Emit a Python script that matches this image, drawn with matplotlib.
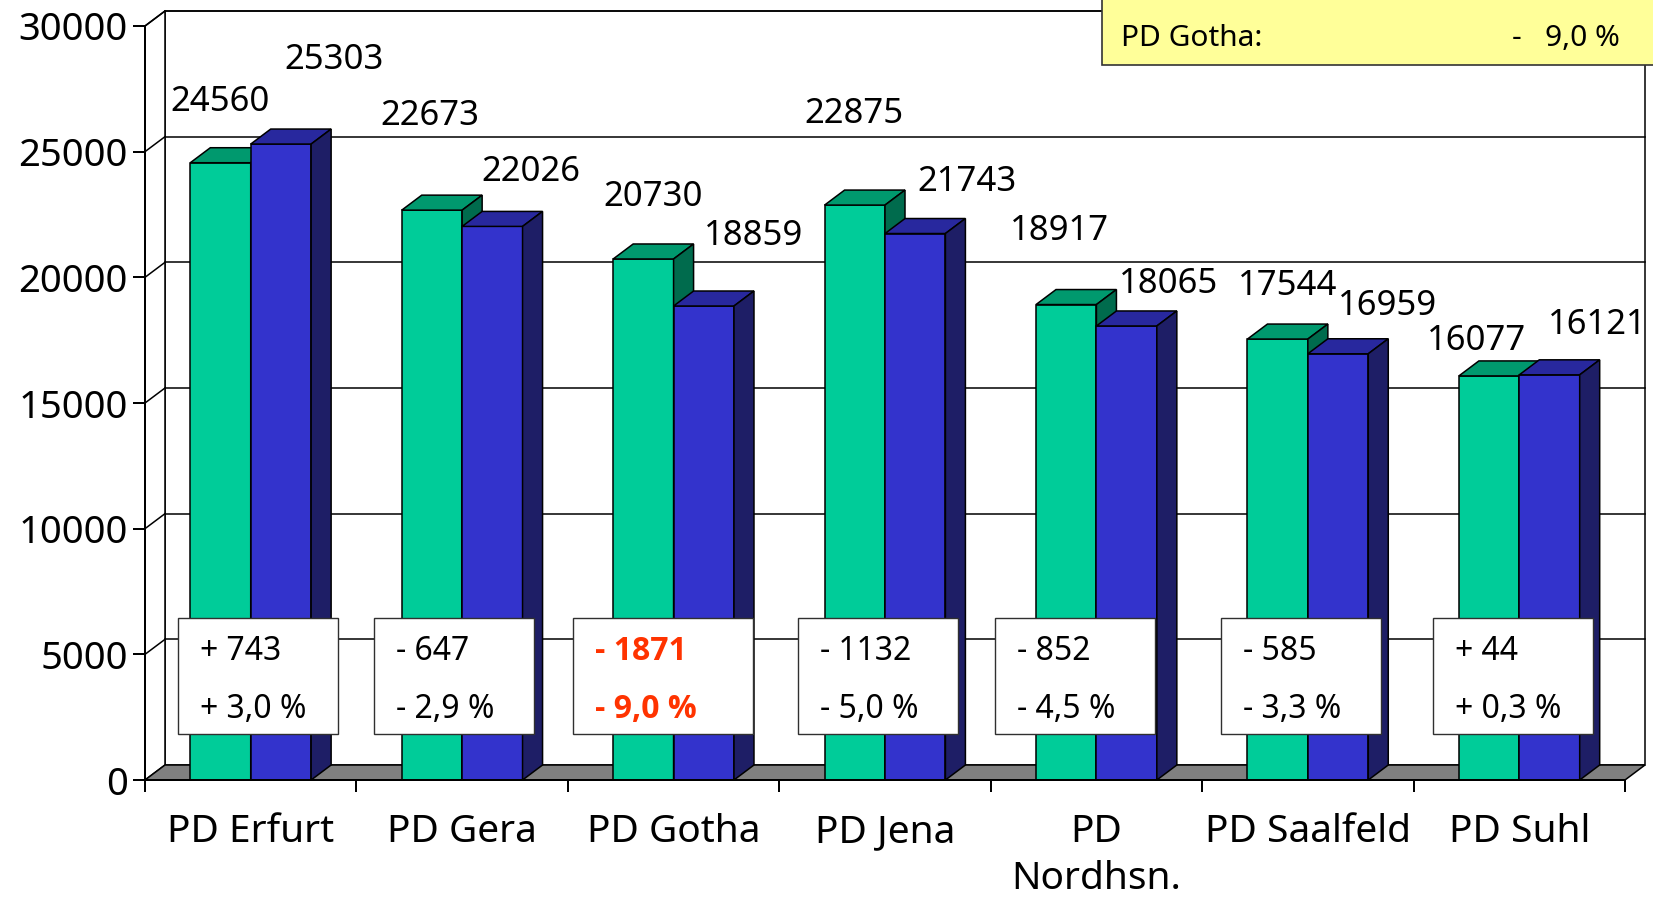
import matplotlib
matplotlib.use("Agg")
import matplotlib.pyplot as plt
from matplotlib.patches import Polygon, Rectangle

# ---- data ----
categories = ["PD Erfurt", "PD Gera", "PD Gotha", "PD Jena", "PD\nNordhsn.", "PD Saalfeld", "PD Suhl"]
cases_prev = [24560, 22673, 20730, 22875, 18917, 17544, 16077]   # green series
cases_curr = [25303, 22026, 18859, 21743, 18065, 16959, 16121]   # blue series
diff_abs = [743, -647, -1871, -1132, -852, -585, 44]
diff_pct = [3.0, -2.9, -9.0, -5.0, -4.5, -3.3, 0.3]
y_ticks = [0, 5000, 10000, 15000, 20000, 25000, 30000]
highlight = 2                      # PD Gotha
note_label = "PD Gotha:"
note_value = "-   9,0 %"

# ---- layout / style ----
W, H = 1653, 897
AX_L, AX_B, AX_W, AX_H = 145, 117, 1480, 754      # front plane, pixels
DEPTH_X, DEPTH_Y = 20, 15                          # 3d depth in pixels
GAP = 1.5                                          # gap width (x bar width)

GREEN = ("#00CC99", "#00996E", "#006B4D")          # front, top, side
BLUE = ("#3333CC", "#28289E", "#1E1E66")
FLOOR = "#808080"
RED = "#FF3300"
LW = 1.1

# label offsets in pixels (right, up) from top of each bar
green_lbl_off = [(0, 61), (-2, 94), (10, 62), (-1, 91), (-7, 74), (10, 53), (-13, 35)]
blue_lbl_off = [(53, 84), (39, 54), (50, 70), (52, 52), (42, 42), (49, 48), (48, 50)]
# diff boxes: x shift from category centre, width (pixels)
box_shift = [7, -8, -11, -7, -21, -7, -6]
box_width = [160, 160, 180, 160, 160, 160, 160]
BOX_TOP, BOX_BOT = 618, 734                        # pixels from top of image

plt.rcParams['font.family'] = ['Noto Sans', 'DejaVu Sans']

fig = plt.figure(figsize=(W / 100, H / 100), dpi=100)
ax = fig.add_axes([AX_L / W, AX_B / H, AX_W / W, AX_H / H])
n = len(categories)
ymax = y_ticks[-1]
ax.set_xlim(0, n)
ax.set_ylim(0, ymax)

# pixel -> data conversions
px_x = n / AX_W
px_y = ymax / AX_H
DX, DY = DEPTH_X * px_x, DEPTH_Y * px_y


def y_of_pixel(py):
    # py counted from the top of the image
    return (H - AX_B - py) * px_y


# back wall, left wall, floor
ax.add_patch(Rectangle((DX, DY), n, ymax, facecolor="white", edgecolor="black",
                       lw=LW, zorder=0.5, clip_on=False))
ax.add_patch(Polygon([(0, 0), (DX, DY), (DX, ymax + DY), (0, ymax)], closed=True,
                     facecolor="white", edgecolor="black", lw=LW, zorder=0.5, clip_on=False))
for v in y_ticks[1:]:
    ax.plot([DX, n + DX], [v + DY, v + DY], color="black", lw=LW, zorder=0.6, clip_on=False)
    ax.plot([0, DX], [v, v + DY], color="black", lw=LW, zorder=0.6, clip_on=False)
ax.add_patch(Polygon([(0, 0), (n, 0), (n + DX, DY), (DX, DY)], closed=True,
                     facecolor=FLOOR, edgecolor="black", lw=LW, zorder=1, clip_on=False))

# 3d columns
bw = 1 / (2 + GAP)


def draw_bar(x0, v, cols, z):
    front, top, side = cols
    ax.add_patch(Rectangle((x0, 0), bw, v, facecolor=front, edgecolor="black",
                           lw=LW, zorder=z, clip_on=False))
    ax.add_patch(Polygon([(x0, v), (x0 + bw, v), (x0 + bw + DX, v + DY), (x0 + DX, v + DY)],
                         closed=True, facecolor=top, edgecolor="black", lw=LW,
                         zorder=z, clip_on=False))
    ax.add_patch(Polygon([(x0 + bw, 0), (x0 + bw + DX, DY), (x0 + bw + DX, v + DY), (x0 + bw, v)],
                         closed=True, facecolor=side, edgecolor="black", lw=LW,
                         zorder=z, clip_on=False))


for i in range(n):
    xg = i + 0.5 - bw
    xb = i + 0.5
    draw_bar(xg, cases_prev[i], GREEN, 2 + i * 0.1)
    draw_bar(xb, cases_curr[i], BLUE, 2.05 + i * 0.1)
    ox, oy = green_lbl_off[i]
    ax.annotate(str(cases_prev[i]), (xg + bw / 2, cases_prev[i]), xytext=(ox * 0.72, oy * 0.72),
                textcoords="offset points", ha="center", va="center", fontsize=25, zorder=5)
    ox, oy = blue_lbl_off[i]
    ax.annotate(str(cases_curr[i]), (xb + bw / 2, cases_curr[i]), xytext=(ox * 0.72, oy * 0.72),
                textcoords="offset points", ha="center", va="center", fontsize=25, zorder=5)

# difference boxes
yb0, yb1 = y_of_pixel(BOX_BOT), y_of_pixel(BOX_TOP)
for i in range(n):
    bwid = box_width[i] * px_x
    left = i + 0.5 + box_shift[i] * px_x - bwid / 2
    ax.add_patch(Rectangle((left, yb0), bwid, yb1 - yb0, facecolor="white",
                           edgecolor="#303030", lw=1.0, zorder=6, clip_on=False))
    sign = "+" if diff_abs[i] >= 0 else "-"
    line1 = f"{sign} {abs(diff_abs[i])}"
    line2 = f"{sign} {abs(diff_pct[i]):.1f} %".replace(".", ",")
    if i == highlight:
        style = dict(color=RED, fontweight="bold", family=["Open Sans", "Roboto", "DejaVu Sans"])
    else:
        style = dict(color="black")
    tx = left + 22 * px_x
    ax.text(tx, y_of_pixel(660), line1, fontsize=23, ha="left", va="baseline", zorder=7, **style)
    ax.text(tx, y_of_pixel(718), line2, fontsize=23, ha="left", va="baseline", zorder=7, **style)

# axes
for s in ("top", "right"):
    ax.spines[s].set_visible(False)
for s in ("left", "bottom"):
    ax.spines[s].set_linewidth(LW * 1.3)
    ax.spines[s].set_zorder(8)
ax.set_yticks(y_ticks)
ax.set_yticklabels([str(v) for v in y_ticks])
ax.tick_params(axis="y", direction="out", length=12 * 0.72, width=LW * 1.3, pad=5 * 0.72, labelsize=27.5)
ax.set_xticks(range(n + 1))
ax.set_xticklabels([])
ax.set_xticks([i + 0.5 for i in range(n)], minor=True)
ax.set_xticklabels(categories, minor=True, fontsize=28, linespacing=1.3)
ax.tick_params(axis="x", which="major", direction="out", length=12 * 0.72, width=LW * 1.3)
ax.tick_params(axis="x", which="minor", length=0, pad=24)

# yellow note at top right
fig.patches.append(Rectangle((1102 / W, 1 - 65 / H), 600 / W, 70 / H, transform=fig.transFigure,
                             facecolor="#FFFF99", edgecolor="#333333", lw=1.2, zorder=10))
fig.text(1121 / W, 1 - 38 / H, note_label, fontsize=21.5, ha="left", va="center", zorder=11)
fig.text(1620 / W, 1 - 38 / H, note_value, fontsize=21.5, ha="right", va="center", zorder=11)

fig.savefig("out.png", dpi=100)
